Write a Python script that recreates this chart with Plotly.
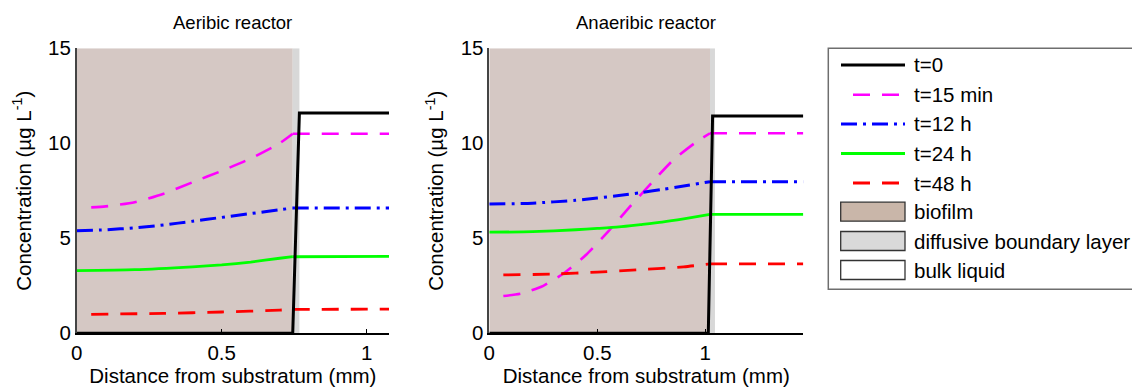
import plotly.graph_objects as go

W, H = 1132, 388
FONT = "Liberation Sans, Arial, sans-serif"
FS = 20.5
FS_TITLE = 18.5

# ---------------- data ----------------
# Aerobic reactor
aer_biofilm_end = 0.745
aer_dbl_end = 0.768
aer_xmax = 1.077
aer_t0_x = [0, 0.745, 0.768, 1.077]
aer_t0_y = [0, 0, 11.6, 11.6]
aer_t15_x = [0.05, 0.1, 0.2, 0.3, 0.4, 0.5, 0.6, 0.7, 0.745, 1.077]
aer_t15_y = [6.63, 6.68, 6.9, 7.35, 7.95, 8.55, 9.2, 10.0, 10.5, 10.5]
aer_t12_x = [0, 0.1, 0.2, 0.3, 0.4, 0.5, 0.6, 0.7, 0.745, 1.077]
aer_t12_y = [5.4, 5.45, 5.55, 5.7, 5.9, 6.1, 6.3, 6.5, 6.6, 6.6]
aer_t24_x = [0, 0.2, 0.4, 0.5, 0.6, 0.7, 0.745, 1.077]
aer_t24_y = [3.3, 3.35, 3.5, 3.6, 3.75, 3.95, 4.03, 4.05]
aer_t48_x = [0.05, 0.3, 0.5, 0.7, 0.745, 1.077]
aer_t48_y = [1.0, 1.05, 1.12, 1.22, 1.26, 1.27]

# Anaerobic reactor
ana_biofilm_end = 1.022
ana_dbl_end = 1.045
ana_xmax = 1.454
ana_t0_x = [0, 1.014, 1.034, 1.454]
ana_t0_y = [0, 0, 11.44, 11.44]
ana_t15_x = [0.065, 0.15, 0.25, 0.35, 0.45, 0.55, 0.65, 0.75, 0.85, 0.95, 1.022, 1.454]
ana_t15_y = [1.96, 2.1, 2.5, 3.2, 4.15, 5.35, 6.65, 7.9, 9.1, 10.0, 10.53, 10.53]
ana_t12_x = [0, 0.2, 0.4, 0.5, 0.6, 0.7, 0.8, 0.9, 1.022, 1.454]
ana_t12_y = [6.8, 6.85, 7.0, 7.12, 7.25, 7.4, 7.57, 7.75, 7.98, 7.98]
ana_t24_x = [0, 0.2, 0.4, 0.5, 0.6, 0.7, 0.8, 0.9, 1.022, 1.454]
ana_t24_y = [5.32, 5.35, 5.45, 5.52, 5.6, 5.72, 5.85, 6.02, 6.26, 6.26]
ana_t48_x = [0.065, 0.3, 0.5, 0.7, 0.9, 1.022, 1.454]
ana_t48_y = [3.07, 3.12, 3.22, 3.35, 3.5, 3.65, 3.65]

series_names = ["t=0", "t=15 min", "t=12 h", "t=24 h", "t=48 h"]
region_names = ["biofilm", "diffusive boundary layer", "bulk liquid"]
panel_titles = ["Aeribic reactor", "Anaeribic reactor"]
x_ticks = [0, 0.5, 1]
x_ticktext = ["0", "0.5", "1"]
y_ticks = [0, 5, 10, 15]
y_max = 15

# ---------------- styles ----------------
styles = [
    dict(color="black", width=3, dash="solid"),
    dict(color="#ff00ff", width=2.6, dash="17px,12px"),
    dict(color="#0000ff", width=3, dash="16px,6px,3px,6px"),
    dict(color="#00ff00", width=2.8, dash="solid"),
    dict(color="#ff0000", width=2.8, dash="17px,12px"),
]
biofilm_plot = "#d5c8c4"
dbl_plot = "#d8d8d8"
biofilm_leg = "#c9b6a9"
dbl_leg = "#d9d9d9"

fig = go.Figure()

panels = [
    ("x", "y", aer_biofilm_end, aer_dbl_end,
     [(aer_t0_x, aer_t0_y), (aer_t15_x, aer_t15_y), (aer_t12_x, aer_t12_y),
      (aer_t24_x, aer_t24_y), (aer_t48_x, aer_t48_y)]),
    ("x2", "y2", ana_biofilm_end, ana_dbl_end,
     [(ana_t0_x, ana_t0_y), (ana_t15_x, ana_t15_y), (ana_t12_x, ana_t12_y),
      (ana_t24_x, ana_t24_y), (ana_t48_x, ana_t48_y)]),
]

shapes = []
for xa, ya, bf, dbl, series in panels:
    shapes.append(dict(type="rect", xref=xa, yref=ya, x0=0, x1=bf, y0=0, y1=y_max,
                       fillcolor=biofilm_plot, line=dict(width=0), layer="below"))
    shapes.append(dict(type="rect", xref=xa, yref=ya, x0=bf, x1=dbl, y0=0, y1=y_max,
                       fillcolor=dbl_plot, line=dict(width=0), layer="below"))
    for i in [1, 2, 3, 4, 0]:
        sx, sy = series[i]
        if i == 0:
            fig.add_trace(go.Scatter(x=sx, y=sy, mode="lines", name=series_names[i],
                                     line=dict(shape="linear", **styles[i]),
                                     xaxis=xa, yaxis=ya, showlegend=False, hoverinfo="skip"))
            continue
        # curved profile inside the biofilm, straight line in the bulk liquid
        k = len(sx) - 1
        fig.add_trace(go.Scatter(x=sx[:k], y=sy[:k], mode="lines", name=series_names[i],
                                 line=dict(shape="spline", smoothing=0.6, **styles[i]),
                                 xaxis=xa, yaxis=ya, showlegend=False, hoverinfo="skip"))
        fig.add_trace(go.Scatter(x=sx[k - 1:], y=sy[k - 1:], mode="lines", name=series_names[i],
                                 line=dict(shape="linear", **styles[i]),
                                 xaxis=xa, yaxis=ya, showlegend=False, hoverinfo="skip"))

axis_common = dict(
    showgrid=False, zeroline=False, showline=True, linewidth=1.5,
    tickfont=dict(family=FONT, size=FS, color="black"), automargin=False,
)
xaxis_common = dict(tickvals=x_ticks, ticktext=x_ticktext, ticks="inside", ticklen=5,
                    tickcolor="black", linecolor="black",
                    title=dict(text="Distance from substratum (mm)", standoff=2,
                               font=dict(family=FONT, size=FS)), **axis_common)
yaxis_common = dict(range=[0, y_max], tickvals=y_ticks, ticks="", linecolor="#444444",
                    title=dict(text="Concentration (µg L<sup>-1</sup>)", standoff=11,
                               font=dict(family=FONT, size=FS)), **axis_common)

y_dom = [1 - 333.3 / H, 1 - 48.3 / H]
fig.update_layout(
    width=W, height=H, margin=dict(l=0, r=0, t=0, b=0),
    paper_bgcolor="white", plot_bgcolor="white",
    font=dict(family=FONT, size=FS, color="black"),
    showlegend=False,
    xaxis=dict(domain=[76.7 / W, 389 / W], range=[0, aer_xmax], anchor="y", **xaxis_common),
    yaxis=dict(domain=y_dom, anchor="x", **yaxis_common),
    xaxis2=dict(domain=[489.3 / W, 803.3 / W], range=[0, ana_xmax], anchor="y2", **xaxis_common),
    yaxis2=dict(domain=y_dom, anchor="x2", **yaxis_common),
)

annotations = []
for xa, t in zip(["x domain", "x2 domain"], panel_titles):
    annotations.append(dict(text=t, xref=xa, yref="paper", x=0.5, y=1 - 22.7 / H,
                            xanchor="center", yanchor="middle", showarrow=False,
                            font=dict(family=FONT, size=FS_TITLE, color="black")))

# ---------------- manual legend (paper coords from pixels) ----------------
def px(x):
    return x / W


def py(y):
    return 1 - y / H


shapes.append(dict(type="rect", xref="paper", yref="paper",
                   x0=px(828.3), x1=px(1140), y0=py(289.3), y1=py(48.3),
                   line=dict(color="#6e6e6e", width=1.5), fillcolor="white", layer="above"))

row_y = [65, 94.7, 124, 153.5, 183, 211.7, 241, 270]
sx0, sx1, tx = 841, 905, 911.7
for i in range(5):
    st = styles[i]
    x0 = 853 if st["dash"] == "17px,12px" else sx0
    shapes.append(dict(type="line", xref="paper", yref="paper",
                       x0=px(x0), x1=px(sx1), y0=py(row_y[i]), y1=py(row_y[i]),
                       line=dict(color=st["color"], width=st["width"], dash=st["dash"]),
                       layer="above"))
    annotations.append(dict(text=series_names[i], xref="paper", yref="paper",
                            x=px(tx), y=py(row_y[i]), xanchor="left", yanchor="middle",
                            showarrow=False, font=dict(family=FONT, size=FS, color="black")))

region_fills = [biofilm_leg, dbl_leg, "white"]
for j in range(3):
    yc = row_y[5 + j]
    shapes.append(dict(type="rect", xref="paper", yref="paper",
                       x0=px(840.7), x1=px(905), y0=py(yc + 9.5), y1=py(yc - 9.5),
                       fillcolor=region_fills[j], line=dict(color="#333333", width=1.3),
                       layer="above"))
    annotations.append(dict(text=region_names[j], xref="paper", yref="paper",
                            x=px(tx), y=py(yc), xanchor="left", yanchor="middle",
                            showarrow=False, font=dict(family=FONT, size=FS, color="black")))

fig.update_layout(shapes=shapes, annotations=annotations)
fig.write_html("out.html")
